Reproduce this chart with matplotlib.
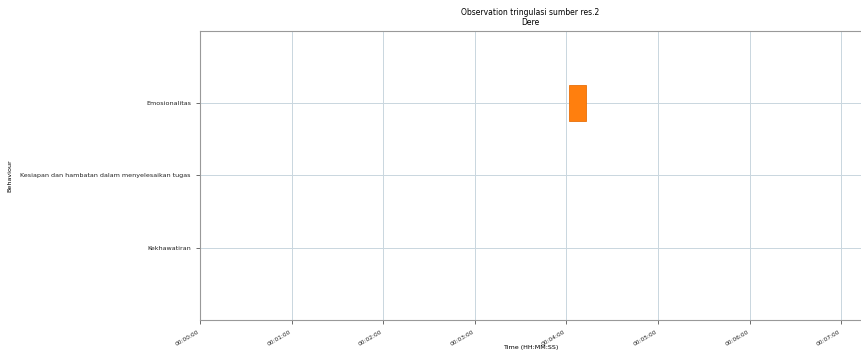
import matplotlib
matplotlib.use("Agg")
import matplotlib.pyplot as plt
from matplotlib.ticker import FuncFormatter, MultipleLocator

# behaviour categories, bottom to top
behaviours = ["Kekhawatiran",
              "Kesiapan dan hambatan dalam menyelesaikan tugas",
              "Emosionalitas"]

# observed episodes: (behaviour, start in seconds, duration in seconds)
episode_behaviour = ["Emosionalitas"]
episode_start = [242]
episode_duration = [11]

plt.rcParams['font.family'] = ['DejaVu Sans']
plt.rcParams['font.size'] = 4.6

fig = plt.figure(figsize=(8.61, 3.51), dpi=100)
ax = fig.add_axes([0.2323, 0.0883, 0.7677, 0.8234])

ypos = [behaviours.index(b) for b in episode_behaviour]
ax.barh(ypos, episode_duration, left=episode_start, height=0.5,
        color='#ff7f0e', edgecolor='#e8700a', linewidth=0.6, zorder=3)

ax.set_yticks(range(len(behaviours)))
ax.set_yticklabels(behaviours)
ax.set_ylim(-1, len(behaviours))
ax.set_xlim(0, 433)

def hms(x, pos):
    s = int(round(x))
    return f"{s // 3600:02d}:{(s % 3600) // 60:02d}:{s % 60:02d}"

ax.xaxis.set_major_locator(MultipleLocator(60))
ax.xaxis.set_major_formatter(FuncFormatter(hms))
plt.setp(ax.get_xticklabels(), rotation=30, ha='right', fontsize=4.2)

ax.grid(True, color='#c9d6df', linewidth=0.7, zorder=0)
for side in ['top', 'bottom', 'left']:
    ax.spines[side].set_color('#999999')
ax.spines['right'].set_visible(False)
ax.tick_params(colors='#555555', labelcolor='#222222', length=3, width=0.6)

ax.set_title("Observation tringulasi sumber res.2\nDere", fontsize=5.5, pad=4)
ax.set_xlabel("Time (HH:MM:SS)")
ax.set_ylabel("Behaviour")
ax.xaxis.set_label_coords(0.5, -0.085)
ax.yaxis.set_label_coords(-0.284, 0.5)

fig.savefig("out.png", dpi=100)
